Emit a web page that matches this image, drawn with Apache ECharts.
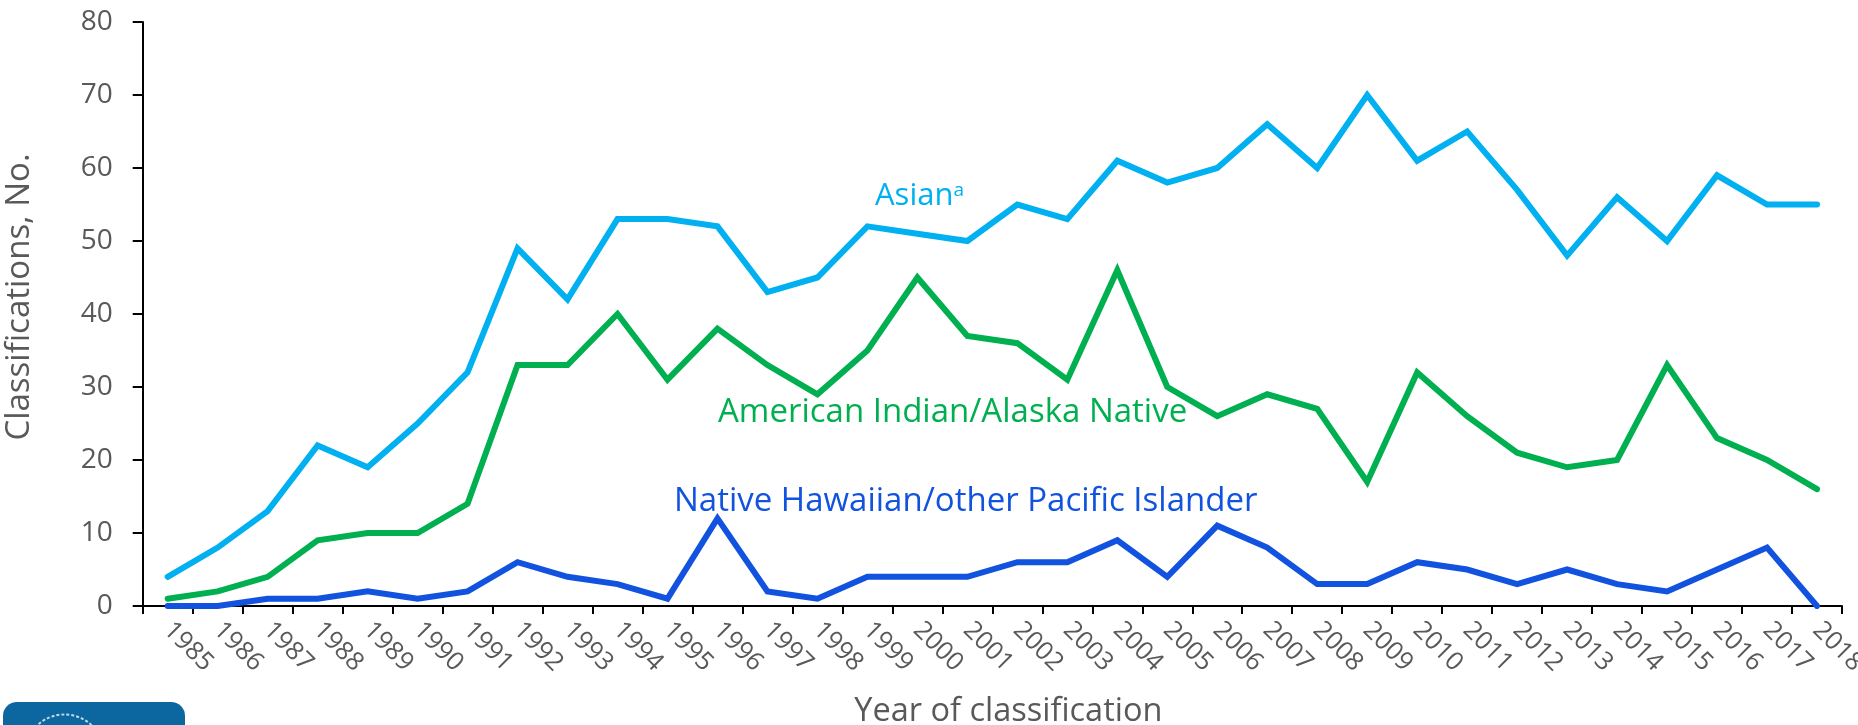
<!DOCTYPE html>
<html>
<head>
<meta charset="utf-8">
<script src="https://cdn.jsdelivr.net/npm/echarts@6/dist/echarts.min.js"></script>
<style>
html,body{margin:0;padding:0;background:#fff;}
#chart{width:1858px;height:725px;}
</style>
</head>
<body>
<div id="chart"></div>
<script>
const years = ['1985','1986','1987','1988','1989','1990','1991','1992','1993','1994','1995','1996','1997','1998','1999','2000','2001','2002','2003','2004','2005','2006','2007','2008','2009','2010','2011','2012','2013','2014','2015','2016','2017','2018'];
const asian = [4,8,13,22,19,25,32,49,42,53,53,52,43,45,52,51,50,55,53,61,58,60,66,60,70,61,65,57,48,56,50,59,55,55];
const aian = [1,2,4,9,10,10,14,33,33,40,31,38,33,29,35,45,37,36,31,46,30,26,29,27,17,32,26,21,19,20,33,23,20,16];
const nhpi = [0,0,1,1,2,1,2,6,4,3,1,12,2,1,4,4,4,6,6,9,4,11,8,3,3,6,5,3,5,3,2,5,8,0];
const yTicks = [0,10,20,30,40,50,60,70,80];

const FONT = '"Open Sans", sans-serif';
const GRAY = '#595959';
const C_ASIAN = '#00B0F0', C_AIAN = '#00B050', C_NHPI = '#1152DE';

const chart = echarts.init(document.getElementById('chart'));
function line(name, data, color){
  return {name, type:'line', data, symbol:'none', smooth:false,
    lineStyle:{color, width:6, cap:'round', join:'miter'}, itemStyle:{color}};
}
chart.setOption({
  animation:false,
  grid:{left:142.7, right:16, top:22, bottom:119, containLabel:false, outerBoundsMode:'none'},
  xAxis:{type:'category', data:years, boundaryGap:true,
    name:'Year of classification', nameLocation:'middle', nameGap:89,
    nameTextStyle:{fontFamily:FONT, fontSize:32.5, color:GRAY, padding:[0,0,0,32]},
    axisLine:{lineStyle:{color:'#000', width:2}},
    axisTick:{show:true, length:8, lineStyle:{color:'#000', width:2}},
    axisLabel:{rotate:-45, margin:20, fontFamily:FONT, fontSize:25.5, color:GRAY, interval:0}
  },
  yAxis:{type:'value', min:yTicks[0], max:yTicks[yTicks.length-1], interval:10,
    name:'Classifications, No.', nameLocation:'middle', nameGap:107,
    nameTextStyle:{fontFamily:FONT, fontSize:33, color:GRAY, padding:[0,0,0,34]},
    axisLine:{show:true, lineStyle:{color:'#000', width:2}},
    axisTick:{show:true, length:10, lineStyle:{color:'#000', width:2}},
    splitLine:{show:false},
    axisLabel:{margin:30, fontFamily:FONT, fontSize:28, color:GRAY}
  },
  series:[line('Asian', asian, C_ASIAN), line('American Indian/Alaska Native', aian, C_AIAN), line('Native Hawaiian/other Pacific Islander', nhpi, C_NHPI)],
  graphic:[
    {type:'text', left:875, top:181, style:{text:'{m|Asian}{s|a}', rich:{m:{fontFamily:FONT, fontSize:31, fill:C_ASIAN}, s:{fontFamily:FONT, fontSize:19, fill:C_ASIAN, verticalAlign:'top'}}}},
    {type:'text', left:718, top:396, style:{text:'American Indian/Alaska Native', fontFamily:FONT, fontSize:33, fill:C_AIAN}},
    {type:'text', left:674, top:485, style:{text:'Native Hawaiian/other Pacific Islander', fontFamily:FONT, fontSize:33, fill:C_NHPI}},
    {type:'rect', left:3, top:702, shape:{width:182, height:50, r:14}, style:{fill:'#0C67A1'}},
    {type:'circle', left:22, top:712, shape:{r:40}, style:{fill:'none', stroke:'rgba(255,255,255,0.75)', lineWidth:2, lineDash:[3,2]}}
  ]
});
</script>
</body>
</html>
